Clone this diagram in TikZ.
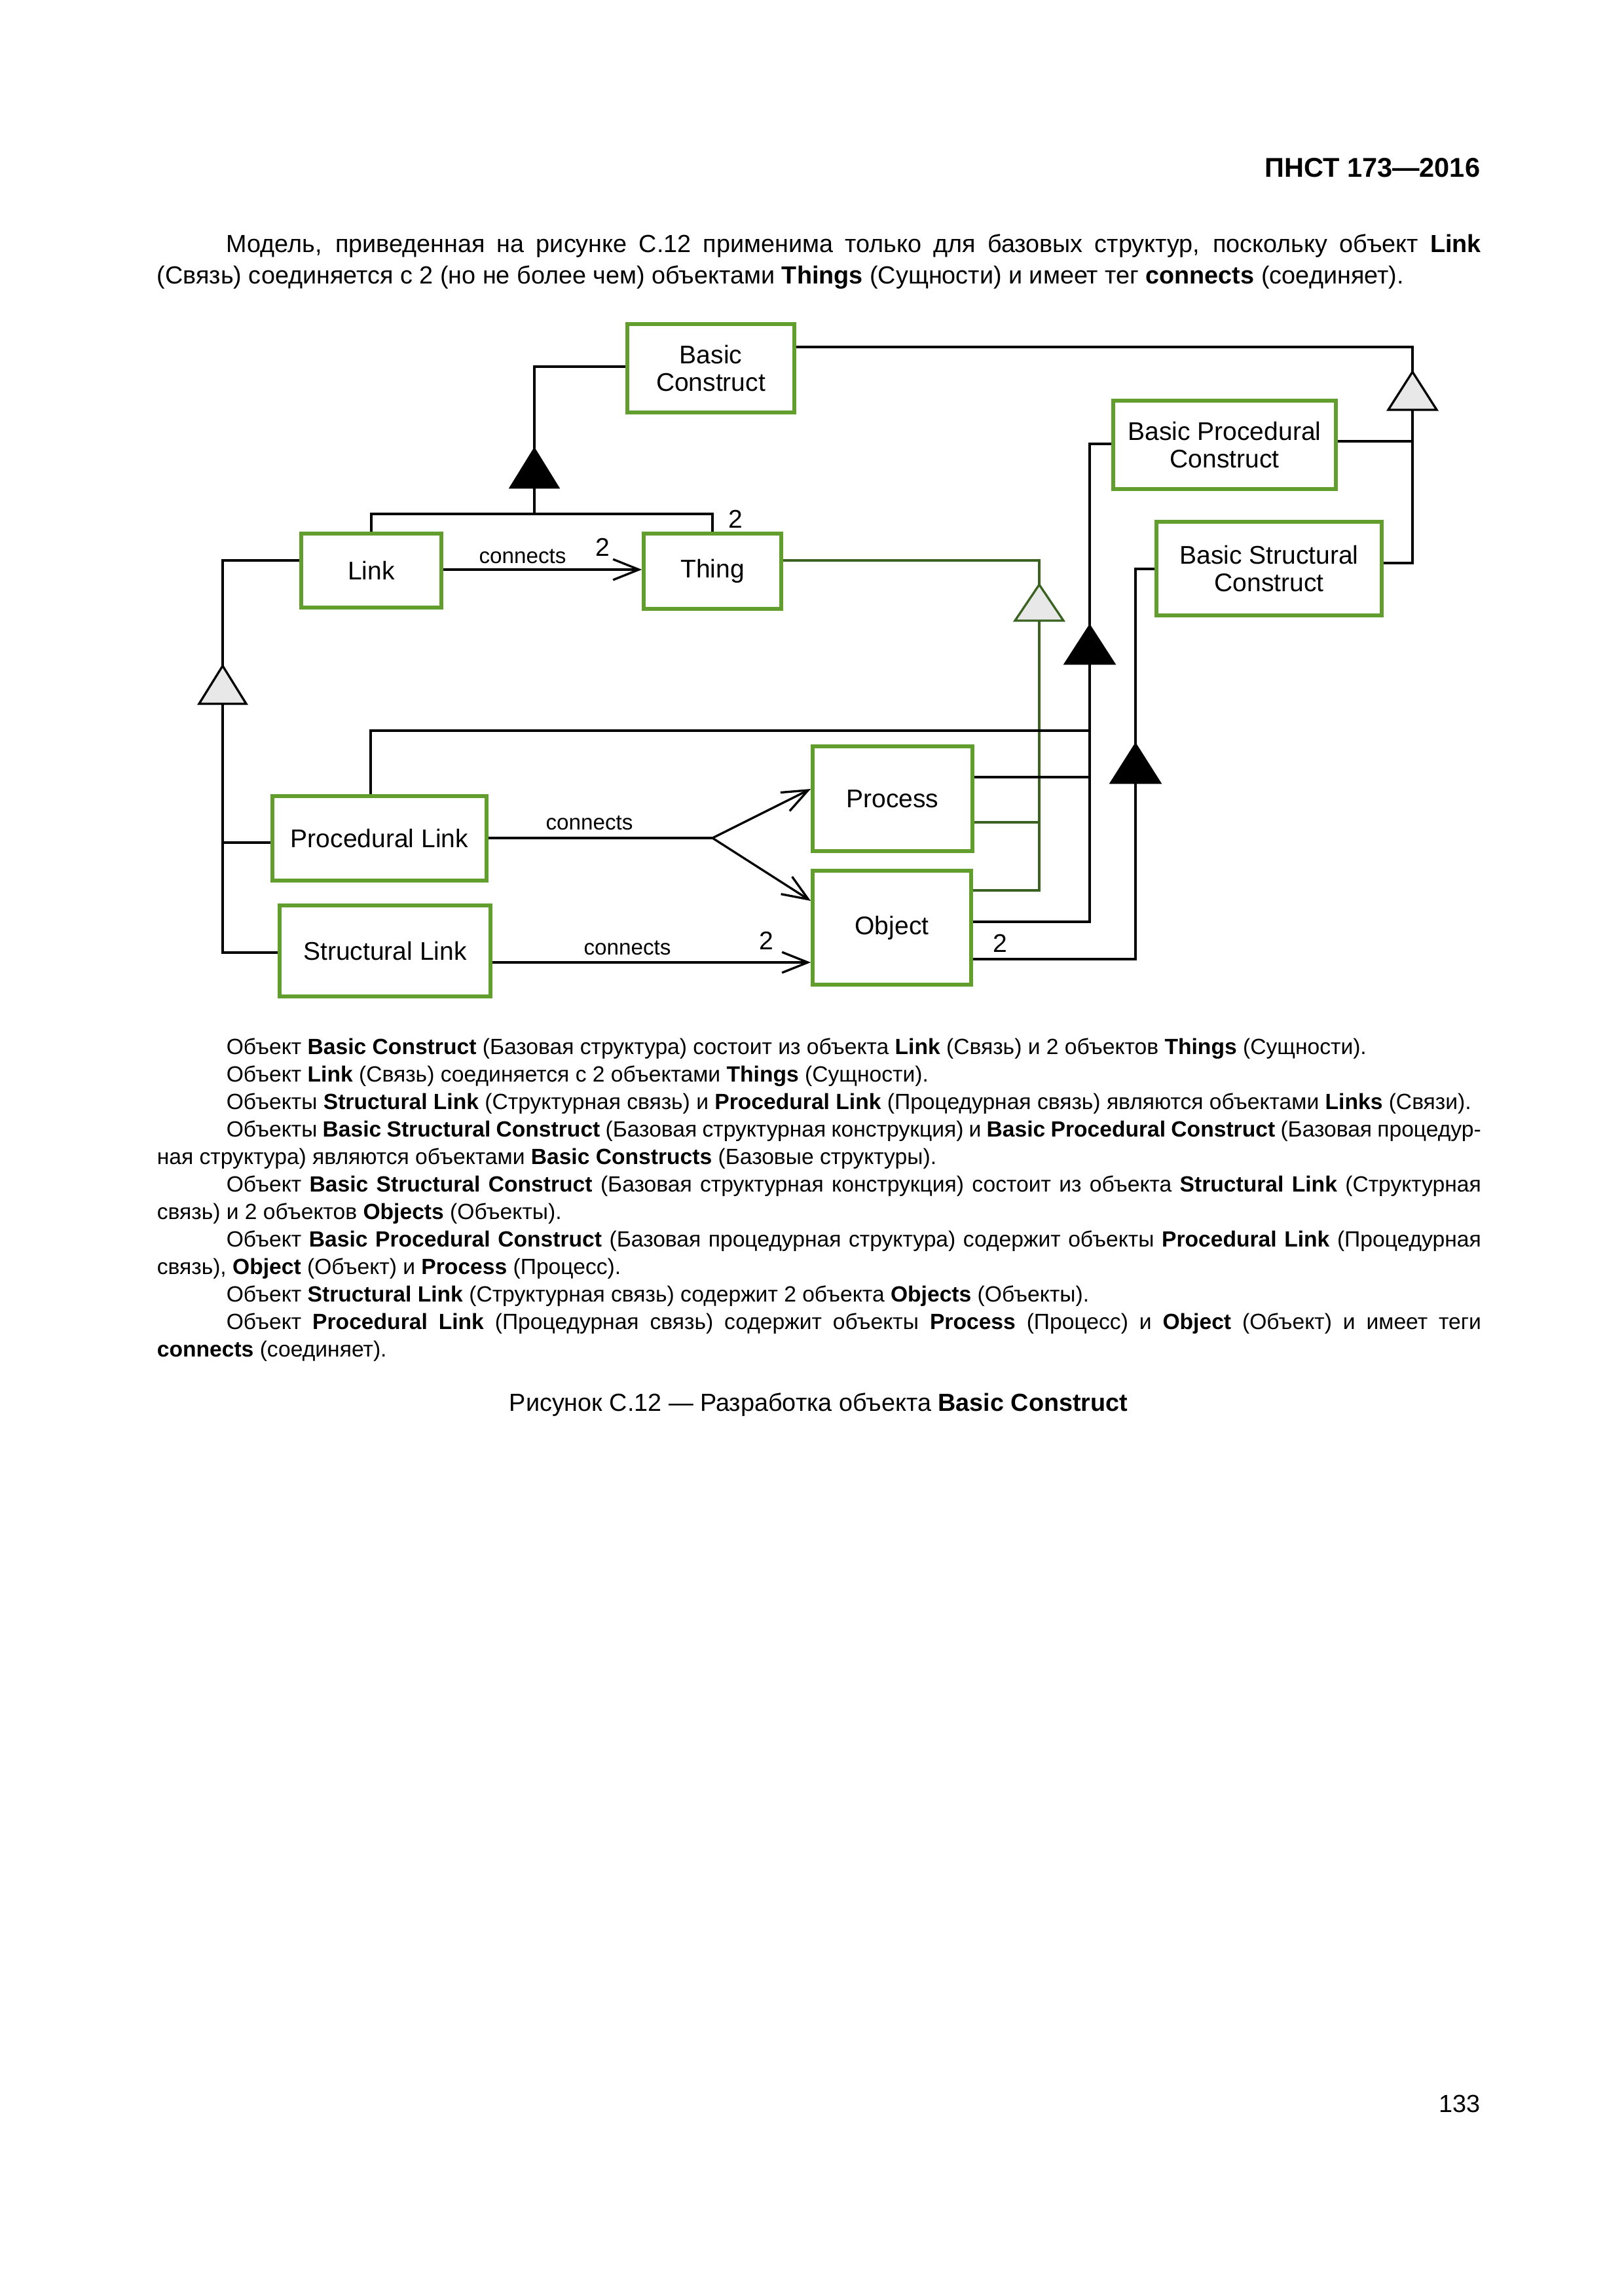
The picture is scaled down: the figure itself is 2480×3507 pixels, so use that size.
\documentclass[tikz,border=0pt]{standalone}
\usepackage{fontspec}
\setmainfont{Liberation Sans}
\usepackage{graphicx}
\usetikzlibrary{arrows.meta}
\newlength\pxu
\setlength\pxu{0.084677mm}
\definecolor{boxgreen}{RGB}{98,158,46}
\definecolor{lgreen}{RGB}{58,98,32}
\definecolor{trigray}{RGB}{232,232,232}
\newcommand\myfig{\fontsize{9.4pt}{10.3pt}\selectfont}
\newcommand\mylbl{\fontsize{8pt}{9pt}\selectfont}
\newcommand\mybody{\fontsize{8.1pt}{10pt}\selectfont}
\newcommand\mypar{\fontsize{9.1pt}{11pt}\selectfont}
\newcommand\jline[2]{\makebox[#1\pxu][s]{#2}}
\begin{document}
\begin{tikzpicture}[x=0.084677mm, y=-0.084677mm,
  box/.style={draw=boxgreen, line width=1.4pt, fill=white, inner sep=0pt, align=center, font=\myfig},
  conn/.style={draw=black, line width=0.8pt},
  gconn/.style={draw=lgreen, line width=0.8pt},
  openhead/.style={-{Straight Barb[length=9.5pt,width=7.6pt,line width=0.8pt]}},
  blktri/.style={fill=black, draw=black, line width=0.6pt, line join=miter},
  hollowtri/.style={fill=trigray, draw=black, line width=0.8pt, line join=miter},
  ghollowtri/.style={fill=trigray, draw=lgreen, line width=0.8pt, line join=miter},
  lbl/.style={inner sep=0pt, font=\mylbl},
  lbltwo/.style={inner sep=0pt, font=\myfig},
  txt/.style={inner sep=0pt, anchor=base west},
  ]
\useasboundingbox[fill=white] (0,0) rectangle (2480,3507);

% ---------- header and top paragraph ----------
\node[inner sep=0pt, anchor=base east] (hdr) at (2261,270) {\fontsize{10pt}{12pt}\selectfont\bfseries ПНСТ 173—2016};
\node[txt] (p1a) at (345,385) {\mypar\jline{1916}{Модель, приведенная на рисунке С.12 применима только для базовых структур, поскольку объект \textbf{Link}}};
\node[txt] (p1b) at (239,433) {\mypar (Связь) соединяется с 2 (но не более чем) объектами \textbf{Things} (Сущности) и имеет тег \textbf{connects} (соединяет).};

% ---------- boxes ----------
\node[box, minimum width=255\pxu, minimum height=135\pxu] (bc) at (1085.5,562.5) {Basic\\Construct};
\node[box, minimum width=214\pxu, minimum height=113\pxu] (link) at (567,871.5) {Link};
\node[box, minimum width=210\pxu, minimum height=115\pxu] (thing) at (1088,872.5) {Thing};
\node[box, minimum width=340\pxu, minimum height=135\pxu] (bpc) at (1870,679.5) {Basic Procedural\\Construct};
\node[box, minimum width=344\pxu, minimum height=143\pxu] (bsc) at (1938,868.5) {Basic Structural\\Construct};
\node[box, minimum width=327\pxu, minimum height=129\pxu] (pl) at (579.5,1280.5) {Procedural Link};
\node[box, minimum width=322\pxu, minimum height=139\pxu] (sl) at (588,1452.5) {Structural Link};
\node[box, minimum width=244\pxu, minimum height=160\pxu] (process) at (1363,1220) {Process};
\node[box, minimum width=242\pxu, minimum height=174\pxu] (object) at (1362,1417) {Object};

% ---------- coordinates ----------
\coordinate (aBC) at (816,685);
\coordinate (bBC) at (816,745);
\coordinate (jBC) at (816,785);
\coordinate (aL) at (340,1017);
\coordinate (bL) at (340,1075);
\coordinate (jPL) at (340,1287);
\coordinate (jSL) at (340,1455);
\coordinate (aR) at (2157,568);
\coordinate (bR) at (2157,626);
\coordinate (jBSC) at (2157,860);
\coordinate (aP) at (1664,955);
\coordinate (bP) at (1664,1014);
\coordinate (jP) at (1664,1408);
\coordinate (aS) at (1734,1136);
\coordinate (bS) at (1734,1196);
\coordinate (jS) at (1734,1465);
\coordinate (aT) at (1587,893);
\coordinate (bT) at (1587,948);
\coordinate (jT) at (1587,1360);
\coordinate (fork) at (1088,1280);

% ---------- green generalisation (Thing) ----------
\draw[gconn] (thing.east |- 0,856) -| (aT);
\draw[gconn] (bT) -- (jT) -- (object.east |- jT);
\draw[gconn] (process.east |- 0,1256) -- (bT |- 0,1256);
\draw[ghollowtri] (aT) -- ++(37,55) -- ++(-74,0) -- cycle;

% ---------- Basic Construct aggregation ----------
\draw[conn] (bc.west |- 0,560) -| (aBC);
\draw[conn] (bBC) -- (jBC);
\draw[conn] (link.north) -- (link.north |- jBC) -- (thing.north |- jBC) -- (thing.north);
\draw[blktri] (aBC) -- ++(37,60) -- ++(-74,0) -- cycle;
\node[lbltwo] (n2a) at (1123,793) {2};

% ---------- Link -> Thing ----------
\draw[conn, openhead] (link.east |- 0,870) -- (thing.west |- 0,870);
\node[lbl] (c1) at (798,850) {connects};
\node[lbltwo] (n2b) at (920,836) {2};

% ---------- Link generalisation ----------
\draw[conn] (link.west |- 0,856) -| (aL);
\draw[conn] (bL) -- (jSL) -- (sl.west |- jSL);
\draw[conn] (jPL) -- (pl.west |- jPL);
\draw[hollowtri] (aL) -- ++(36,58) -- ++(-72,0) -- cycle;

% ---------- Basic Construct generalisation ----------
\draw[conn] (bc.east |- 0,530) -| (aR);
\draw[conn] (bR) -- (jBSC) -- (bsc.east |- jBSC);
\draw[conn] (bpc.east |- 0,674) -- (bR |- 0,674);
\draw[hollowtri] (aR) -- ++(37,58) -- ++(-74,0) -- cycle;

% ---------- Basic Procedural Construct aggregation ----------
\draw[conn] (bpc.west |- 0,678) -| (aP);
\draw[conn] (bP) -- (jP) -- (object.east |- jP);
\draw[conn] (pl.north -| 566,0) -- (566,1116) -- (bP |- 0,1116);
\draw[conn] (process.east |- 0,1187) -- (bP |- 0,1187);
\draw[blktri] (aP) -- ++(38,59) -- ++(-76,0) -- cycle;

% ---------- Basic Structural Construct aggregation ----------
\draw[conn] (bsc.west |- 0,869) -| (aS);
\draw[conn] (bS) -- (jS) -- (object.east |- jS);
\draw[blktri] (aS) -- ++(38,60) -- ++(-76,0) -- cycle;
\node[lbltwo] (n2c) at (1527,1441) {2};

% ---------- Procedural Link connects ----------
\draw[conn] (pl.east |- 0,1280) -- (fork);
\draw[conn, openhead] (fork) -- (process.west |- 0,1205);
\draw[conn, openhead] (fork) -- (object.west |- 0,1376);
\node[lbl] (c2) at (900,1257) {connects};

% ---------- Structural Link connects ----------
\draw[conn, openhead] (sl.east |- 0,1470) -- (object.west |- 0,1470);
\node[lbl] (c3) at (958,1448) {connects};
\node[lbltwo] (n2d) at (1170,1437) {2};

% ---------- lower text ----------
\node[txt] (l1) at (345,1610) {\mybody Объект \textbf{Basic Construct} (Базовая структура) состоит из объекта \textbf{Link} (Связь) и 2 объектов \textbf{Things} (Сущности).};
\node[txt] (l2) at (345,1652) {\mybody Объект \textbf{Link} (Связь) соединяется с 2 объектами \textbf{Things} (Сущности).};
\node[txt] (l3) at (345,1694) {\mybody Объекты \textbf{Structural Link} (Структурная связь) и \textbf{Procedural Link} (Процедурная связь) являются объектами \textbf{Links} (Связи).};
\node[txt] (l4) at (345,1736) {\mybody\jline{1916}{Объекты \textbf{Basic Structural Construct} (Базовая структурная конструкция) и \textbf{Basic Procedural Construct} (Базовая процедур-}};
\node[txt] (l5) at (239,1778) {\mybody ная структура) являются объектами \textbf{Basic Constructs} (Базовые структуры).};
\node[txt] (l6) at (345,1820) {\mybody\jline{1916}{Объект \textbf{Basic Structural Construct} (Базовая структурная конструкция) состоит из объекта \textbf{Structural Link} (Структурная}};
\node[txt] (l7) at (239,1862) {\mybody связь) и 2 объектов \textbf{Objects} (Объекты).};
\node[txt] (l8) at (345,1904) {\mybody\jline{1916}{Объект \textbf{Basic Procedural Construct} (Базовая процедурная структура) содержит объекты \textbf{Procedural Link} (Процедурная}};
\node[txt] (l9) at (239,1946) {\mybody связь), \textbf{Object} (Объект) и \textbf{Process} (Процесс).};
\node[txt] (l10) at (345,1988) {\mybody Объект \textbf{Structural Link} (Структурная связь) содержит 2 объекта \textbf{Objects} (Объекты).};
\node[txt] (l11) at (345,2030) {\mybody\jline{1916}{Объект \textbf{Procedural Link} (Процедурная связь) содержит объекты \textbf{Process} (Процесс) и \textbf{Object} (Объект) и имеет теги}};
\node[txt] (l12) at (239,2072) {\mybody\textbf{connects} (соединяет).};

\node[inner sep=0pt, anchor=base] (cap) at (1250,2155) {\mypar Рисунок С.12 — Разработка объекта \textbf{Basic Construct}};
\node[inner sep=0pt, anchor=base east] (pg) at (2261,3226) {\mypar 133};
\end{tikzpicture}
\end{document}
